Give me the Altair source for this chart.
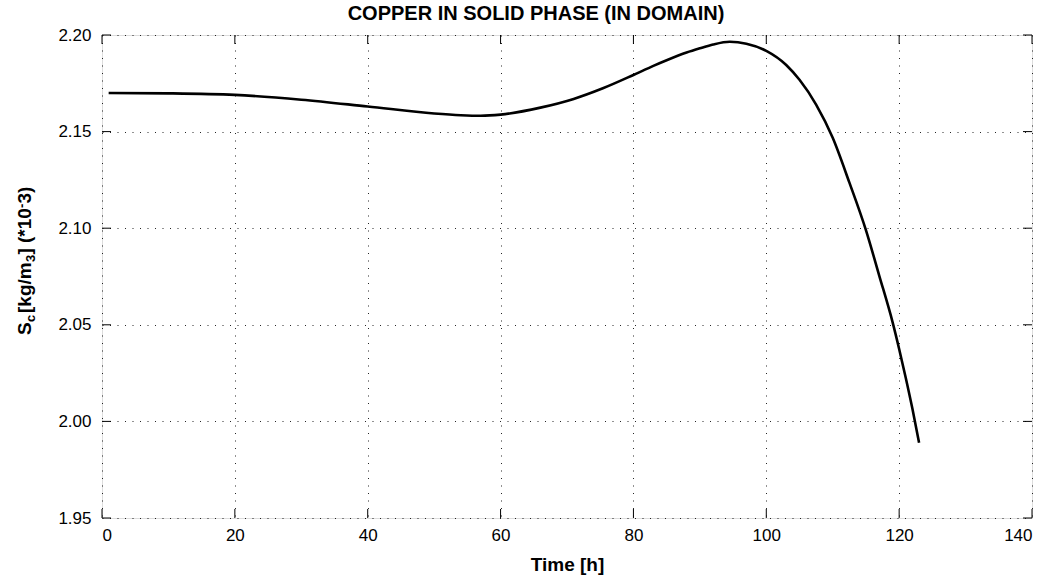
import altair as alt
import pandas as pd

# Data
time_h = [1, 10, 20, 30, 40, 50, 54, 57, 60, 66, 71, 75.4, 80, 83, 85, 88, 90, 92, 94.5, 97,
          100, 103, 105, 107.5, 110, 112.5, 115, 117, 119, 120, 121, 122, 123]
sc = [2.1700, 2.1698, 2.1690, 2.1665, 2.1630, 2.1594, 2.1585, 2.1582, 2.1588, 2.1624,
      2.1669, 2.1724, 2.1793, 2.1840, 2.1869, 2.1909, 2.1931, 2.1951, 2.1965, 2.1955,
      2.1918, 2.1845, 2.1768, 2.1640, 2.1468, 2.1237, 2.0990, 2.0755, 2.0515,
      2.0375, 2.0225, 2.0065, 1.9890]

x_ticks = [0, 20, 40, 60, 80, 100, 120, 140]
y_ticks = [1.95, 2.00, 2.05, 2.10, 2.15, 2.20]
chart_title = ["COPPER IN SOLID PHASE (IN DOMAIN)"]

# y title pieces: text, font size, baseline shift (px), start position along the axis (px from plot top)
ytitle_text = ["S", "c", "[kg/m", "3", "]", "(*10", "-", "3)"]
ytitle_size = [19, 13, 19, 13, 19, 19, 13, 19]
ytitle_shift = [0, 4.5, 0, 4.5, 0, 0, -4.5, 0]
ytitle_pos = [300, 287, 278, 227, 219.5, 208, 173, 168.5]

W, H = 930, 483
FONT = "Liberation Sans"

df = pd.DataFrame({"t": time_h, "s": sc})
xt = pd.DataFrame({"v": x_ticks})
yt = pd.DataFrame({"v": y_ticks})

xscale = alt.Scale(domain=[0, 140], nice=False, zero=False)
yscale = alt.Scale(domain=[1.95, 2.20], nice=False, zero=False)

line = alt.Chart(df).mark_line(color="black", strokeWidth=2.6, interpolate="monotone").encode(
    x=alt.X("t:Q", scale=xscale,
            axis=alt.Axis(values=x_ticks, format="d", title="Time [h]", grid=True,
                          gridColor="#000", gridDash=[1, 6.5], gridWidth=1, gridOpacity=0.85,
                          ticks=False, domain=False, labelFont=FONT, labelFontSize=17,
                          labelColor="black", labelPadding=9,
                          titleFont=FONT, titleFontSize=19, titleFontWeight="bold",
                          titleColor="black", titlePadding=12)),
    y=alt.Y("s:Q", scale=yscale,
            axis=alt.Axis(values=y_ticks, format=".2f", title=None, grid=True,
                          gridColor="#000", gridDash=[1, 6.5], gridWidth=1, gridOpacity=0.85,
                          ticks=False, domain=False, labelFont=FONT, labelFontSize=17,
                          labelColor="black", labelPadding=11)),
)

tick_len = 9
xb = alt.Chart(xt).mark_rule(color="black", strokeWidth=1).encode(
    x=alt.X("v:Q", scale=xscale), y=alt.value(H), y2=alt.value(H - tick_len))
xtop = alt.Chart(xt).mark_rule(color="black", strokeWidth=1).encode(
    x=alt.X("v:Q", scale=xscale), y=alt.value(0), y2=alt.value(tick_len))
yl = alt.Chart(yt).mark_rule(color="black", strokeWidth=1).encode(
    y=alt.Y("v:Q", scale=yscale), x=alt.value(0), x2=alt.value(tick_len))
yr = alt.Chart(yt).mark_rule(color="black", strokeWidth=1).encode(
    y=alt.Y("v:Q", scale=yscale), x=alt.value(W), x2=alt.value(W - tick_len))

ytitle_layers = []
for txt, fs, sh, pos in zip(ytitle_text, ytitle_size, ytitle_shift, ytitle_pos):
    ytitle_layers.append(
        alt.Chart(pd.DataFrame({"lbl": [txt]})).mark_text(
            angle=270, align="left", baseline="alphabetic", font=FONT, fontSize=fs,
            fontWeight="bold", color="black"
        ).encode(text="lbl:N", x=alt.value(-71.5 + sh), y=alt.value(pos))
    )

title_layer = alt.Chart(pd.DataFrame({"lbl": chart_title})).mark_text(
    align="center", baseline="alphabetic", font=FONT, fontSize=20,
    fontWeight="bold", color="black"
).encode(text="lbl:N", x=alt.value(434), y=alt.value(-15))

chart = alt.layer(line, xb, xtop, yl, yr, title_layer, *ytitle_layers).properties(
    width=W, height=H,
    padding={"left": 102, "top": 35, "right": 15, "bottom": 61},
    autosize=alt.AutoSizeParams(type="none"),
).configure_view(stroke="black", strokeWidth=1.2).configure(background="white")

chart.save("out.html", embed_options={"renderer": "svg", "actions": False})
